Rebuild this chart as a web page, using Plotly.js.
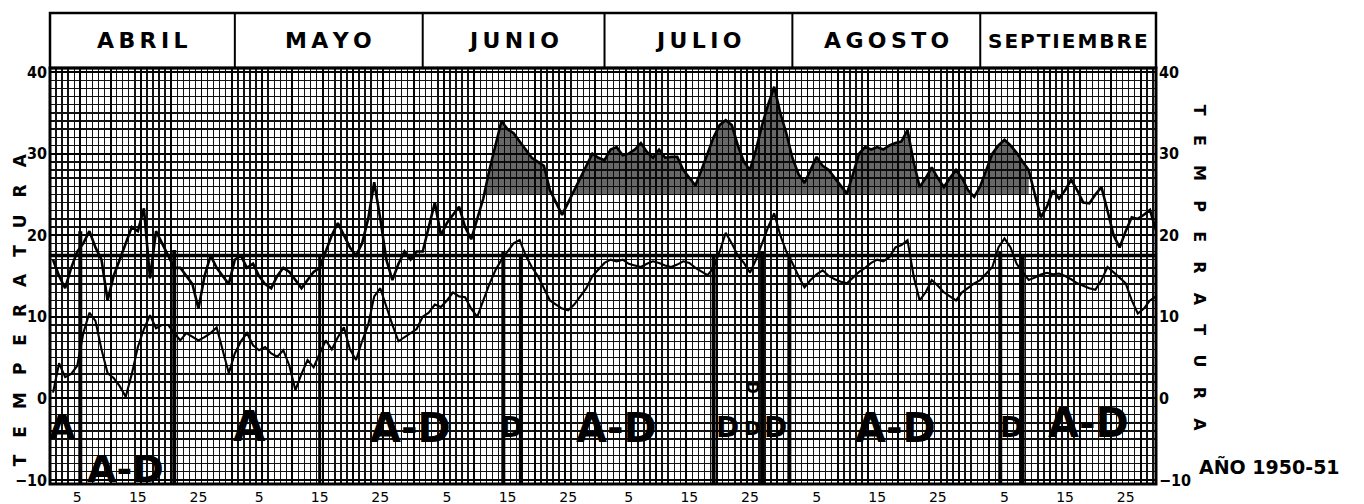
<!DOCTYPE html>
<html><head><meta charset="utf-8">
<script src="https://cdn.plot.ly/plotly-3.0.1.min.js"></script>
<style>html,body{margin:0;padding:0;background:#fff}</style>
</head><body><div id="chart" style="width:1364px;height:504px"></div>
<script>
// ---------- data ----------
const months = ['ABRIL','MAYO','JUNIO','JULIO','AGOSTO','SEPTIEMBRE'];
const monthLengths = [30,31,30,31,31,30];
const tickDays = [5,15,25];
const tickLabels = ['5','15','25'];
const yTickVals = [-10,0,10,20,30,40];

const tmaxAbril = [17,15,13.5,16,18,19,20.5,18.5,17,12,15,17,19,21,20.5,23.3,14.7,20.5,19,17.5,16,16,15,14,11,15,17.5,16,15,14];
const tmaxMayo = [17,17.5,16,16.5,15,14,13.5,15,16,15.5,14.5,13.5,14.5,15.5,16,18,20,21.5,20,18.5,17.5,19,22,26.5,22,17,14.5,16.5,18,17,18];
const tmaxJunio = [18,21,24,20,21.5,22.5,23.5,21,19.5,22,24.5,28,31,34,33,32.5,31.5,30.5,29.5,29,28.5,25.5,24,22.5,24,25.5,27,28.5,30,29.5];
const tmaxJulio = [29.2,30.5,30.8,29.8,30,30.5,31.3,30.2,29.5,30.5,29.5,29.6,29.6,28,27,26.1,28,30,32,33.5,34.1,33.5,31,29,28,30.5,33.5,36,38.2,35,32.5];
const tmaxAgosto = [29.5,27.5,26.4,28,29.6,28.5,28,27,26,25.1,27.5,30,30.8,30.5,30.8,30.5,31,31.3,31.5,32.9,29,25.9,27,28.3,27,25.9,27,28,27,25.5,24.7];
const tmaxSeptiembre = [26,28,30,31,31.7,31,30.1,29,28,25,22.2,23.5,25.5,24.5,25.5,26.8,25.5,24,23.9,25,25.9,23,20,18.5,20.5,22.2,22,22.5,23.1,20.6];

const tminAbril = [0.7,4.3,2.6,3,4,8,10.5,9.5,6,3.1,2.5,1.5,0.2,3,6.3,8.5,10.2,8.6,9,9,8,7.1,8,7.5,7.1,7.5,8,8.7,6,3.1];
const tminMayo = [5.5,7,8,6.5,5.9,6.3,5.5,5.1,5.9,4,1,3,4.7,3.8,5.5,7.1,6,7.5,8.7,6,4.7,7,9,12.5,13.5,11.2,9,7,7.5,8,8.5];
const tminJunio = [10,10.5,11.5,11.2,12,13,12.5,12.4,11,10,12,14,15.7,17,18,19,19.4,17.5,16.1,15,13.5,12,11.5,11,10.8,11.5,12.5,13.5,15,15.8];
const tminJulio = [16.6,17,16.8,17,16.5,16.3,16.1,16.5,16.8,16.6,16.3,16.1,16.4,16.8,16.6,16,15.5,15.1,16,18,20.3,19,17.5,16.6,15.4,17,19,21,22.7,20,18];
const tminAgosto = [16.6,15,13.6,14.5,15.2,15.7,15,14.6,14.3,14.1,14.8,15.5,16,16.6,17,16.8,17.3,18.5,18.8,19.4,15,12,13,14.5,13.8,13,12.5,12,13,13.6,14.1];
const tminSeptiembre = [14.5,15.3,16.1,18.5,19.6,18.5,16.5,15.5,14.5,14.8,15.2,15.4,15.2,15.3,15,14.6,14.1,13.8,13.5,13.3,14.5,16.1,15.5,14.8,14.1,12,10.4,11,12,12.5];

const referenceTemp = 17.5;
const shadeBase = 25;
const shadeFromDay = 72;
const shadeToDay = 162;

const markerDays = [5.5,21,45,75.3,78.2,110,118,122.5,157.3,161];
const markerTops = [20.5,18.2,17.5,18,17.5,17.5,18,17.5,18,17.5];
const markerWidths = [4,4,3,4,4,4,4,4,4,4];

const periodLabels = ['A','A-D','A','A-D','D','A-D','D','D','D','D','A-D','D','A-D'];
const periodDays   = [2.6,12.9,33.5,60,76.6,94,112.3,116.4,116.4,120.2,140,159.1,171.8];
const periodTemps  = [-3.5,-8.6,-3.5,-3.6,-3.6,-3.6,-3.6,-3.6,1.3,-3.6,-3.6,-3.6,-3.0];
const periodSizes  = [34,38,42,40,28,40,28,20,15,28,40,28,40];
const periodAngles = [0,0,0,0,0,0,0,0,90,0,0,0,0];

// ---------- build ----------
const tmax = [].concat(tmaxAbril,tmaxMayo,tmaxJunio,tmaxJulio,tmaxAgosto,tmaxSeptiembre);
const tmin = [].concat(tminAbril,tminMayo,tminJunio,tminJulio,tminAgosto,tminSeptiembre);
const days = tmax.map((_,i)=>i+1);
const monthStart = []; let acc = 0;
monthLengths.forEach(l=>{monthStart.push(acc); acc+=l;});
const xEnd = 183;

const tickvals = [], ticktext = [];
monthStart.forEach(s=>tickDays.forEach((d,k)=>{tickvals.push(s+d); ticktext.push(tickLabels[k]);}));

// shaded polygon: part of tmax above shadeBase within the period
const sx = [], sy = [];
for (let i=0;i<days.length;i++){
  const d = days[i]; if (d<shadeFromDay || d>shadeToDay) continue;
  const v = tmax[i];
  if (sx.length===0){ sx.push(d); sy.push(shadeBase); }
  if (i>0 && days[i-1]>=shadeFromDay){
    const pv = tmax[i-1];
    if ((pv-shadeBase)*(v-shadeBase)<0){
      const t = (shadeBase-pv)/(v-pv);
      sx.push(days[i-1]+t); sy.push(shadeBase);
    }
  }
  sx.push(d); sy.push(Math.max(v,shadeBase));
}
sx.push(sx[sx.length-1]); sy.push(shadeBase);

const FONT = 'DejaVu Sans, Liberation Sans, sans-serif';
const NARROW = 'Liberation Sans Narrow, DejaVu Sans Condensed, sans-serif';

const traces = [
  {x:sx, y:sy, mode:'lines', fill:'toself', fillcolor:'rgba(10,10,10,0.62)', line:{width:0}, hoverinfo:'skip', showlegend:false},
  {x:days, y:tmax, mode:'lines', line:{color:'#000', width:2.6}, showlegend:false, name:'Máxima'},
  {x:days, y:tmin, mode:'lines', line:{color:'#000', width:2.1}, showlegend:false, name:'Mínima'},
  {x:[1], y:[null], xaxis:'x2', yaxis:'y', mode:'lines', showlegend:false, hoverinfo:'skip'},
  {x:[1], y:[null], xaxis:'x', yaxis:'y2', mode:'lines', showlegend:false, hoverinfo:'skip'}
];

const shapes = [];
const annotations = [];
const hTop = 1.132;
shapes.push({type:'rect', xref:'paper', yref:'paper', x0:0, x1:1, y0:1, y1:hTop, line:{color:'#000', width:2.5}});
monthStart.forEach((s,i)=>{
  if (i>0) shapes.push({type:'line', xref:'x', yref:'paper', x0:s+1, x1:s+1, y0:1, y1:hTop, line:{color:'#000', width:2}});
  const a = i===0 ? 0.5 : s+1;
  const b = i===months.length-1 ? xEnd : monthStart[i+1]+1;
  const long = months[i].length>8;
  const gap = long ? '\u200A' : '\u2009';
  annotations.push({xref:'x', yref:'paper', x:(a+b)/2, y:(1+hTop)/2, xanchor:'center', yanchor:'middle',
    text:months[i].split('').join(gap), showarrow:false,
    font:{family:FONT, size: long ? 20 : 22, color:'#000', weight:'bold'}});
});
shapes.push({type:'rect', xref:'paper', yref:'paper', x0:0, x1:1, y0:0, y1:1, line:{color:'#000', width:3}});
shapes.push({type:'line', xref:'paper', yref:'y', x0:0, x1:1, y0:referenceTemp, y1:referenceTemp, line:{color:'#000', width:3.5}});
markerDays.forEach((d,i)=>{
  shapes.push({type:'line', xref:'x', yref:'y', x0:d, x1:d, y0:-10.5, y1:markerTops[i], line:{color:'#000', width:markerWidths[i]}});
});
periodLabels.forEach((t,i)=>{
  annotations.push({xref:'x', yref:'y', x:periodDays[i], y:periodTemps[i], xanchor:'center', yanchor:'middle', text:t,
    textangle:periodAngles[i], showarrow:false,
    font:{family:FONT, size: periodSizes[i], color:'#000', weight:'bold'}});
});
const sp = '\u2003';
annotations.push({xref:'paper', yref:'paper', x:-0.027, y:0.418, xanchor:'center', yanchor:'middle', text:'TEMPERATURA'.split('').join(sp), textangle:-90, showarrow:false,
  font:{family:FONT, size:17, color:'#000', weight:'bold'}});
annotations.push({xref:'paper', yref:'paper', x:1.04, y:0.519, xanchor:'center', yanchor:'middle', text:'TEMPERATURA'.split('').join(sp+'\u2009'), textangle:90, showarrow:false,
  font:{family:FONT, size:16, color:'#000', weight:'bold'}});
annotations.push({xref:'paper', yref:'paper', x:1.103, y:0.041, xanchor:'center', yanchor:'middle', text:'AÑO 1950-51', showarrow:false,
  font:{family:FONT, size:19, color:'#000', weight:'bold'}});

const layout = {
  width:1364, height:504,
  margin:{l:50, r:208, t:68, b:20},
  paper_bgcolor:'#fff', plot_bgcolor:'#fff',
  showlegend:false,
  xaxis:{range:[0.5,xEnd], tickmode:'array', tickvals:tickvals, ticktext:ticktext, showgrid:false, zeroline:false,
    ticks:'', showline:false, ticklabelstandoff:3, tickfont:{family:FONT, size:14, color:'#000'}, fixedrange:true},
  xaxis2:{overlaying:'x', anchor:'y', range:[0.5,xEnd], showticklabels:false, tickmode:'linear', tick0:0.5, dtick:5,
    showgrid:true, gridcolor:'#000', gridwidth:1.9, zeroline:false, ticks:'',
    minor:{tickmode:'linear', tick0:0.5, dtick:1, showgrid:true, gridcolor:'#111', gridwidth:1.4}},
  yaxis:{range:[-10.5,40.5], tickmode:'linear', tick0:0, dtick:10, showgrid:true, gridcolor:'#000', gridwidth:2.2,
    zeroline:false, ticks:'', ticklabelstandoff:2, tickfont:{family:NARROW, size:16, color:'#000', weight:'bold'},
    minor:{tickmode:'linear', tick0:0, dtick:1, showgrid:true, gridcolor:'#111', gridwidth:1.4}},
  yaxis2:{overlaying:'y', side:'right', anchor:'x', range:[-10.5,40.5], tickmode:'linear', tick0:0, dtick:10,
    showgrid:false, zeroline:false, ticks:'', ticklabelstandoff:2, tickfont:{family:NARROW, size:16, color:'#000', weight:'bold'}},
  shapes:shapes, annotations:annotations
};
Plotly.newPlot('chart', traces, layout, {staticPlot:true, displayModeBar:false});
</script></body></html>
